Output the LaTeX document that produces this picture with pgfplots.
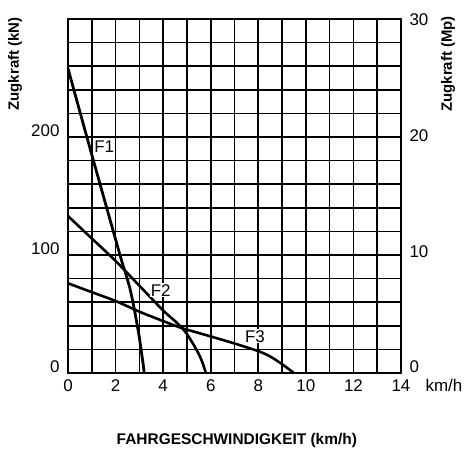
\documentclass[border=0pt]{standalone}
\usepackage{fontspec}
\setmainfont{Liberation Sans}
\usepackage{pgfplots}
\pgfplotsset{compat=1.18}
\usetikzlibrary{calc}
\begin{document}
\begin{tikzpicture}
\begin{axis}[
  scale only axis, width=333bp, height=354bp,
  xmin=0, xmax=14, ymin=0, ymax=300,
  xtick={0,2,...,14}, minor xtick={1,3,...,13},
  ytick={0,100,200}, minor ytick={20,40,60,80,120,140,160,180,220,240,260,280},
  tick pos=left,
  grid=both,
  major grid style={black, line width=1.6pt},
  minor grid style={black, line width=1.6pt},
  axis line style={black, line width=1.7pt},
  major tick length=0pt, minor tick length=0pt,
  /pgf/number format/assume math mode=true,
  yticklabel style={font=\fontsize{17}{19}\selectfont, xshift=-5bp, yshift=6bp},
  xticklabel style={font=\fontsize{17}{19}\selectfont, yshift=-3bp},
  clip=false,
]
\draw[black, line width=2.6pt] (rel axis cs:0,0) -- (rel axis cs:1,0);
% F1
\addplot[black, line width=2.8pt, smooth, tension=0.5] coordinates {
 (0,258) (1.0,185) (2.2,99) (2.4,86) (2.6,72) (2.75,58) (2.88,44) (3.0,30) (3.1,16) (3.17,6) (3.2,0)};
% F2
\addplot[black, line width=2.6pt, smooth, tension=0.5] coordinates {
 (0,133) (1,114) (2,95) (3,74) (4,53) (4.5,44) (4.8,38) (5.0,33) (5.25,25) (5.5,16) (5.65,9) (5.75,3) (5.8,0)};
% F3
\addplot[black, line width=2.6pt, smooth, tension=0.5] coordinates {
 (0,76) (1,68.5) (2,61) (3,52) (4,44) (4.8,38) (6,31) (7,25) (8,18.5) (8.5,14) (9,7.5) (9.3,3) (9.5,0)};
\node[font=\fontsize{17}{19}\selectfont, fill=white, inner sep=1pt] at (axis cs:1.52,192) {F1};
\node[font=\fontsize{17}{19}\selectfont, fill=white, inner sep=1pt] at (axis cs:3.9,70) {F2};
\node[font=\fontsize{17}{19}\selectfont, fill=white, inner sep=1pt] at (axis cs:7.86,31) {F3};
\node[font=\fontsize{17}{19}\selectfont] at ($(rel axis cs:1,0)+(43bp,-12bp)$) {km/h};
\node[rotate=90, font=\bfseries\fontsize{15}{18}\selectfont] at ($(rel axis cs:0,0.873)+(-53bp,0)$) {Zugkraft (kN)};
\node[font=\bfseries\fontsize{15.5}{18}\selectfont] at ($(rel axis cs:0.507,0)+(0,-68bp)$) {FAHRGESCHWINDIGKEIT (km/h)};
\end{axis}
\begin{axis}[
  scale only axis, width=333bp, height=354bp,
  xmin=0, xmax=14, ymin=0, ymax=30.5915,
  hide x axis, axis y line*=right,
  xtick=\empty,
  ytick={0,10,20,30},
  xmajorgrids=false, ymajorgrids=false, xminorgrids=false, yminorgrids=false,
  y axis line style={black, line width=1.7pt},
  major tick length=0pt, minor tick length=0pt,
  ytick style={draw=none},
  /pgf/number format/assume math mode=true,
  yticklabel style={font=\fontsize{17}{19}\selectfont, xshift=5bp, yshift=6bp},
  clip=false,
]
\node[rotate=90, font=\bfseries\fontsize{15}{18}\selectfont] at ($(rel axis cs:1,0.873)+(47bp,0)$) {Zugkraft (Mp)};
\end{axis}
\pgfresetboundingbox
\path ($(current axis.south west)+(-68bp,-77bp)$) rectangle ($(current axis.north east)+(66bp,19bp)$);
\end{tikzpicture}
\end{document}
